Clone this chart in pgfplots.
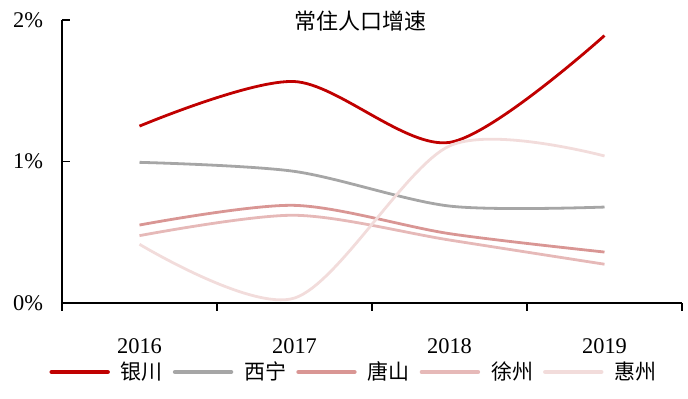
\documentclass[border=0pt]{standalone}
\usepackage{pgfplots}
\pgfplotsset{compat=1.18}
\usepackage{fontspec}
\setmainfont{Liberation Serif}
\newfontfamily\cjk{Noto Sans CJK SC}
\definecolor{cA}{HTML}{C00000}
\definecolor{cB}{HTML}{A6A6A6}
\definecolor{cC}{HTML}{D99694}
\definecolor{cD}{HTML}{E6B9B8}
\definecolor{cE}{HTML}{F2DCDB}
\begin{document}
\begin{tikzpicture}
\path[use as bounding box] (-31pt,-48pt) rectangle (313pt,151.5pt);
\begin{axis}[
  at={(0,0)}, anchor=south west,
  scale only axis, width=310pt, height=141.5pt,
  xmin=-0.5, xmax=3.5, ymin=0, ymax=2,
  axis x line*=bottom, axis y line*=left,
  axis line style={line width=0.6pt, black},
  tick align=inside, major tick length=3.8pt,
  tick style={line width=0.6pt, black},
  xtick={-0.5,0.5,1.5,2.5,3.5}, xticklabels={},
  x tick style={yshift=-3.8pt},
  extra x ticks={0,1,2,3},
  extra x tick labels={2016,2017,2018,2019},
  extra x tick style={major tick length=0pt, xticklabel style={yshift=-14.5pt}},
  ytick={0,1,2}, yticklabels={0\%,1\%,2\%},
  yticklabel style={xshift=-6pt},
  ticklabel style={font=\fontsize{11.2}{13}\selectfont},
  title={\cjk 常住人口增速},
  title style={at={(0.482,1)}, anchor=center, yshift=-6.5pt, font=\fontsize{11}{13}\selectfont},
  legend columns=5,
  legend style={at={(0.4645,0)}, anchor=center, xshift=1.5pt, yshift=-34.5pt, draw=none,
    font=\fontsize{10.5}{12}\cjk, inner sep=0pt,
    nodes={inner sep=0pt},
    column sep=5.5pt, /tikz/every even column/.append style={column sep=5pt}},
  legend image code/.code={\draw[#1, line width=2.2pt, line cap=round] (0pt,0pt) -- (28pt,0pt);},
  every axis plot/.append style={smooth, line width=1.4pt, no markers},
]
\addplot[cA] coordinates {(0,1.25) (1,1.565) (2,1.135) (3,1.89)};
\addplot[cB] coordinates {(0,0.994) (1,0.93) (2,0.685) (3,0.678)};
\addplot[cC] coordinates {(0,0.551) (1,0.69) (2,0.49) (3,0.36)};
\addplot[cD] coordinates {(0,0.476) (1,0.62) (2,0.445) (3,0.274)};
\addplot[cE] coordinates {(0,0.415) (1,0.035) (2,1.11) (3,1.039)};
\legend{银川,西宁,唐山,徐州,惠州}
\end{axis}
\end{tikzpicture}
\end{document}
